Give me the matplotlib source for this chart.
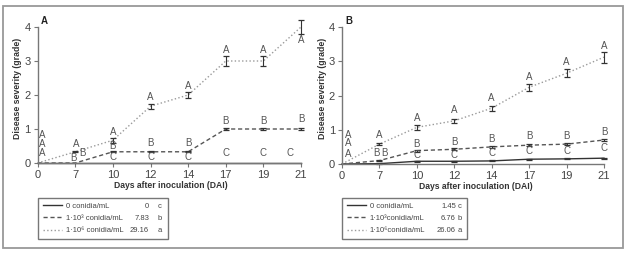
import numpy as np
import matplotlib
matplotlib.use("Agg")
from matplotlib import pyplot as plt
from matplotlib.patches import Rectangle
from matplotlib.text import Annotation

plt.rcParams['font.family'] = ['Liberation Sans Narrow', 'Liberation Sans', 'DejaVu Sans']

days = ["0", "7", "10", "12", "14", "17", "19", "21"]

# panel A
a_ctrl = [0, 0, 0, 0, 0, 0, 0, 0]
a_e3 = [0, 0, 0.33, 0.33, 0.33, 1.0, 1.0, 1.0]
a_e6 = [0, 0.33, 0.67, 1.67, 2.0, 3.0, 3.0, 4.0]
a_ctrl_err = [0, 0, 0, 0, 0, 0, 0, 0]
a_e3_err = [0, 0, 0.02, 0.02, 0.02, 0.03, 0.03, 0.03]
a_e6_err = [0, 0.01, 0.08, 0.08, 0.1, 0.14, 0.14, 0.2]
a_ctrl_let = ["A", "B", "C", "C", "C", "C", "C", "C"]
a_e3_let = ["A", "B", "B", "B", "B", "B", "B", "B"]
a_e6_let = ["A"] * 8
a_names = ["0 conidia/mL", "1·10³ conidia/mL", "1·10⁶ conidia/mL"]
a_auc = ["0", "7.83", "29.16"]
a_grp = ["c", "b", "a"]

# panel B
b_ctrl = [0, 0.01, 0.08, 0.08, 0.09, 0.14, 0.15, 0.17]
b_e3 = [0, 0.1, 0.39, 0.43, 0.5, 0.55, 0.58, 0.7]
b_e6 = [0, 0.58, 1.07, 1.26, 1.63, 2.24, 2.65, 3.12]
b_ctrl_err = [0, 0.01, 0.015, 0.015, 0.015, 0.015, 0.015, 0.015]
b_e3_err = [0, 0.02, 0.03, 0.03, 0.03, 0.03, 0.03, 0.03]
b_e6_err = [0, 0.03, 0.07, 0.05, 0.07, 0.11, 0.12, 0.16]
b_ctrl_let = ["A", "B", "C", "C", "C", "C", "C", "C"]
b_e3_let = ["A", "B", "B", "B", "B", "B", "B", "B"]
b_e6_let = ["A"] * 8
b_names = ["0 conidia/mL", "1·10³conidia/mL", "1·10⁶conidia/mL"]
b_auc = ["1.45", "6.76", "26.06"]
b_grp = ["c", "b", "a"]

# letter offsets (pixels) : layout only
a_off = {
    "e6": [(5, 28), (1, 8), (0, 8.5), (0, 9.5), (0, 9), (0, 11), (0, 11), (0, -13)],
    "e3": [(5, 19), (-2, 5), (0, 6), (0, 9), (0, 9), (0, 8), (0, 8), (0, 9.5)],
    "ctrl": [(5, 10), (7.5, 10.5), (0, 6), (0, 6), (0, 6), (0, 10), (0, 10), (-11, 10)],
}
b_off = {
    "e6": [(6, 29), (0, 9), (0, 9), (0, 11), (0, 10.5), (0, 10), (0, 11), (0, 11)],
    "e3": [(6, 20.5), (-3, 7.5), (0, 7), (0, 7.5), (0, 7.5), (0, 9), (0, 8), (0, 8)],
    "ctrl": [(6, 10), (5.5, 10.5), (0, 6), (0, 6), (0, 7.5), (0, 8.5), (0, 8), (0, 10.5)],
}

W, H = 630, 254
fig = plt.figure(figsize=(W / 100, H / 100), dpi=100)
fig.add_artist(Rectangle((3 / W, 6 / H), 620 / W, 242 / H, transform=fig.transFigure,
                         fill=False, ec="#999999", lw=1.3))

x = np.arange(len(days))
styles = {"ctrl": ("-", "#333333"), "e3": ("--", "#555555"), "e6": (":", "#9a9a9a")}
px = 0.72  # pixel -> point


def panel(ax, tag, ctrl, e3, e6, errs, lets, offs, names, auc, grp, xlab_x, leg_box, vals_dx):
    series = {"ctrl": ctrl, "e3": e3, "e6": e6}
    handles = []
    for key in ["ctrl", "e3", "e6"]:
        ls, col = styles[key]
        ln, = ax.plot(x, series[key], linestyle=ls, color=col, lw=1.0, clip_on=False)
        if ls == "--":
            ln.set_dashes((3, 2))
        handles.append(ln)
        y = np.array(series[key])
        e = np.array(errs[key])
        m = e > 0
        ax.errorbar(x[m], y[m], yerr=e[m], fmt="none", ecolor="#333333",
                    elinewidth=0.8, capsize=2.4, capthick=0.9, clip_on=False)
        for i, (lt, (dx, dy)) in enumerate(zip(lets[key], offs[key])):
            ax.annotate(lt, xy=(i, y[i]), xytext=(dx * px, dy * px), textcoords="offset points",
                        ha="center", va="center", fontsize=7, color="#555555")

    ax.set_xlim(0, 7)
    ax.set_ylim(0, 4)
    ax.set_xticks(x)
    ax.set_xticklabels(days)
    ax.set_yticks([0, 1, 2, 3, 4])
    for s in ["top", "right"]:
        ax.spines[s].set_visible(False)
    for s in ["left", "bottom"]:
        ax.spines[s].set_color("#777777")
        ax.spines[s].set_linewidth(1.0)
    ax.tick_params(direction="out", length=3, width=0.8, color="#777777",
                   labelsize=8, labelcolor="#444444", pad=2)
    ax.set_ylabel("Disease severity (grade)", fontsize=6.3, fontweight="bold", color="#333333")
    ax.yaxis.set_label_coords(-0.058, 0.55)
    ax.set_xlabel("Days after inoculation (DAI)", fontsize=6.2, fontweight="bold", color="#333333")
    ax.xaxis.set_label_coords(xlab_x, -0.13)
    ax.text(0.012, 1.045, tag, transform=ax.transAxes, fontsize=7, fontweight="bold",
            ha="left", va="center", color="#222222")

    leg = fig.legend(handles, names, loc="lower left", mode="expand",
                     bbox_to_anchor=leg_box, borderaxespad=0, fontsize=5.5,
                     frameon=True, fancybox=False, edgecolor="#555555",
                     handlelength=2.6, handletextpad=0.4, labelspacing=0.65,
                     borderpad=0.6, labelcolor="#444444")
    leg.get_frame().set_linewidth(1.0)
    for txt, v, g in zip(leg.get_texts(), auc, grp):
        for s, dx, ha in [(v, vals_dx[0], "right"), (g, vals_dx[1], "left")]:
            an = Annotation(s, xy=(1, 0.5), xycoords=(leg, txt), xytext=(dx * px, 0),
                            textcoords="offset points", ha=ha, va="center",
                            fontsize=5.5, color="#444444", annotation_clip=False)
            an.set_zorder(10)
            fig.add_artist(an)


axA = fig.add_axes([37.7 / W, 1 - 163 / H, (301 - 37.7) / W, (163 - 27) / H])
axB = fig.add_axes([342 / W, 1 - 164 / H, (604 - 342) / W, (164 - 27) / H])

panel(axA, "A", a_ctrl, a_e3, a_e6,
      {"ctrl": a_ctrl_err, "e3": a_e3_err, "e6": a_e6_err},
      {"ctrl": a_ctrl_let, "e3": a_e3_let, "e6": a_e6_let},
      a_off, a_names, a_auc, a_grp, 0.504,
      (38 / W, 15 / H, 130 / W, 45 / H), (-19, -10))
panel(axB, "B", b_ctrl, b_e3, b_e6,
      {"ctrl": b_ctrl_err, "e3": b_e3_err, "e6": b_e6_err},
      {"ctrl": b_ctrl_let, "e3": b_e3_let, "e6": b_e6_let},
      b_off, b_names, b_auc, b_grp, 0.51,
      (342 / W, 15 / H, 125 / W, 45 / H), (-11, -9))

fig.savefig("out.png", dpi=100)
